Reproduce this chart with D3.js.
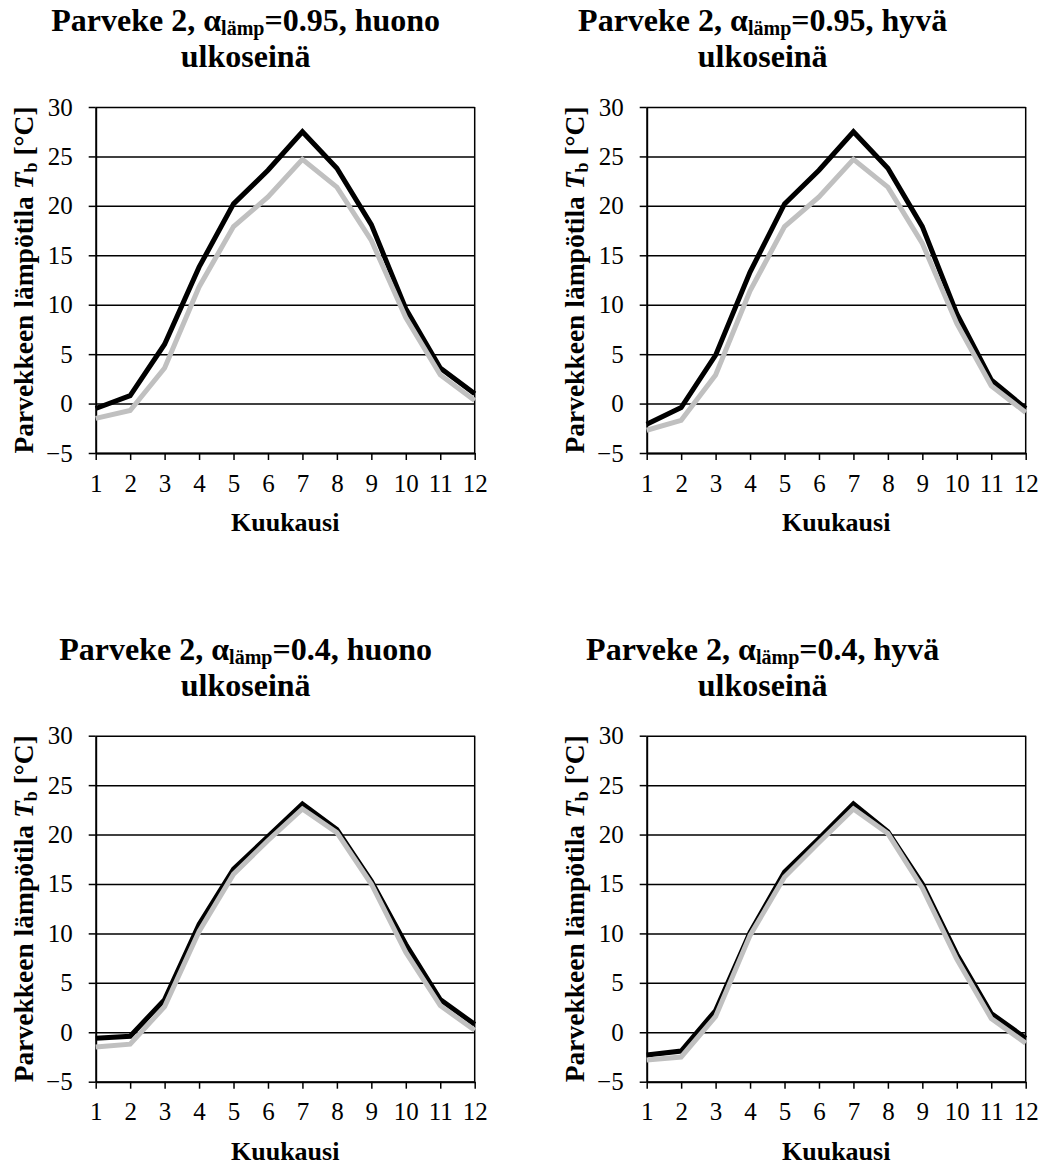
<!doctype html>
<html>
<head>
<meta charset="utf-8">
<script src="https://d3js.org/d3.v7.min.js"></script>
<style>
    body { margin: 0; background: #fff; }
    text { font-family: "Liberation Serif", "Times New Roman", serif; fill: #000; }
</style>
</head>
<body>
<svg width="1042" height="1166"></svg>
<script>
    // kuukaudet ja y-akselin jaot
    var months = [1, 2, 3, 4, 5, 6, 7, 8, 9, 10, 11, 12];
    var yTicks = [-5, 0, 5, 10, 15, 20, 25, 30];

    // paneelien otsikot (alfa ja ulkoseinä)
    var alphas = ["0.95", "0.95", "0.4", "0.4"];
    var walls = ["huono", "hyvä", "huono", "hyvä"];

    // parvekkeen lämpötila, musta ja harmaa käyrä
    var black1 = [-0.5, 0.8, 6.0, 13.8, 20.2, 23.6, 27.5, 23.8, 18.1, 9.6, 3.6, 1.0];
    var grey1  = [-1.5, -0.7, 3.6, 11.8, 17.9, 20.9, 24.7, 21.9, 16.5, 8.7, 2.9, 0.3];
    var black2 = [-2.1, -0.4, 4.9, 13.3, 20.2, 23.6, 27.5, 23.8, 17.9, 9.1, 2.4, -0.5];
    var grey2  = [-2.7, -1.7, 2.9, 11.4, 17.9, 20.9, 24.7, 21.9, 16.2, 8.1, 1.8, -0.9];
    var black3 = [-0.6, -0.4, 3.3, 10.9, 16.5, 19.8, 23.1, 20.5, 15.3, 8.9, 3.3, 0.8];
    var grey3  = [-1.5, -1.2, 2.6, 10.2, 16.0, 19.4, 22.6, 20.2, 15.0, 8.1, 2.7, 0.2];
    var black4 = [-2.3, -1.9, 2.2, 10.1, 16.2, 19.6, 23.1, 20.3, 15.0, 7.9, 1.9, -0.6];
    var grey4  = [-2.8, -2.5, 1.6, 9.8, 15.7, 19.2, 22.6, 20.1, 14.6, 7.4, 1.4, -1.1];

    var blacks = [black1, black2, black3, black4];
    var greys = [grey1, grey2, grey3, grey4];

    var svg = d3.select("svg"),
        width = 379,
        height = 346,
        lefts = [95.7, 646.7],
        tops = [107, 735.7],
        titleX = [150, 116];

    var x = d3.scaleLinear().domain([1, 12]).range([0, width]);
    var y = d3.scaleLinear().domain([-5, 30]).range([height, 0]);

    var line = d3.line()
        .x(function(d, i) { return x(months[i]); })
        .y(function(d) { return y(d); });

    for (var p = 0; p < 4; p++) {
        var col = p % 2, row = Math.floor(p / 2);
        var g = svg.append("g")
            .attr("transform", "translate(" + lefts[col] + "," + tops[row] + ")");

        // vaakasuorat apuviivat
        g.append("g")
         .call(d3.axisLeft(y).tickValues(yTicks).tickSize(-width).tickFormat(""))
         .call(function(s) { s.select(".domain").remove(); })
         .selectAll("line").attr("stroke", "#000").attr("stroke-width", 1.5);

        // oikea reuna
        g.append("line")
         .attr("x1", x(12)).attr("x2", x(12))
         .attr("y1", y(30)).attr("y2", y(-5))
         .attr("stroke", "#000").attr("stroke-width", 1.5);

        // y-akseli
        var ya = g.append("g")
         .call(d3.axisLeft(y).tickValues(yTicks).tickSize(7).tickPadding(16).tickSizeOuter(0));
        ya.select(".domain").attr("stroke-width", 2);
        ya.selectAll("line").attr("stroke-width", 1.5);
        ya.selectAll("text").attr("font-size", "25px");

        // x-akseli
        var xa = g.append("g")
         .attr("transform", "translate(0," + height + ")")
         .call(d3.axisBottom(x).tickValues(months).tickSize(7).tickPadding(14).tickSizeOuter(0));
        xa.select(".domain").attr("stroke-width", 2);
        xa.selectAll("line").attr("stroke-width", 1.5);
        xa.selectAll("text").attr("font-size", "25px");

        // käyrät: musta ensin, harmaa päälle
        g.append("path")
         .datum(blacks[p])
         .attr("fill", "none")
         .attr("stroke", "#000")
         .attr("stroke-width", 5)
         .attr("d", line);

        g.append("path")
         .datum(greys[p])
         .attr("fill", "none")
         .attr("stroke", "#c0c0c0")
         .attr("stroke-width", 5)
         .attr("d", line);

        // otsikko
        var t = g.append("text")
         .attr("x", titleX[col])
         .attr("y", -76)
         .attr("text-anchor", "middle")
         .attr("font-size", "32px")
         .attr("font-weight", "bold");
        t.append("tspan").text("Parveke 2, α");
        t.append("tspan").attr("font-size", "20px").attr("dy", 4).text("lämp");
        t.append("tspan").attr("dy", -4).text("=" + alphas[p] + ", " + walls[p]);

        g.append("text")
         .attr("x", titleX[col])
         .attr("y", -40)
         .attr("text-anchor", "middle")
         .attr("font-size", "32px")
         .attr("font-weight", "bold")
         .text("ulkoseinä");

        // x-akselin otsikko
        g.append("text")
         .attr("x", width / 2)
         .attr("y", height + 78)
         .attr("text-anchor", "middle")
         .attr("font-size", "26px")
         .attr("font-weight", "bold")
         .text("Kuukausi");

        // y-akselin otsikko
        var yl = g.append("text")
         .attr("transform", "rotate(-90)")
         .attr("x", -height / 2)
         .attr("y", -63)
         .attr("text-anchor", "middle")
         .attr("font-size", "27.5px")
         .attr("font-weight", "bold");
        yl.append("tspan").text("Parvekkeen lämpötila ");
        yl.append("tspan").attr("font-style", "italic").text("T");
        yl.append("tspan").attr("font-size", "18px").attr("dy", 4).text("b");
        yl.append("tspan").attr("dy", -4).text(" [°C]");
    }
</script>
</body>
</html>
